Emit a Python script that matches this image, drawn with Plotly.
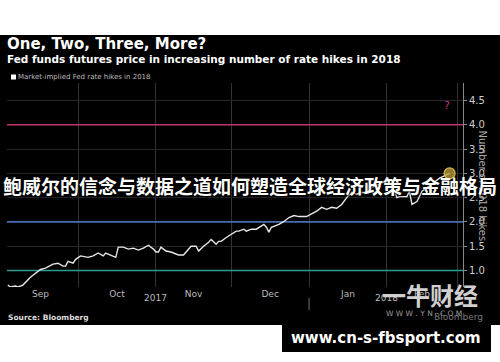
import plotly.graph_objects as go

# ---- data ----
dates = ["2017-09-03","2017-09-04","2017-09-06","2017-09-07","2017-09-09","2017-09-12","2017-09-16","2017-09-18","2017-09-21","2017-09-23","2017-09-25","2017-09-26","2017-09-27","2017-09-29","2017-09-30",
         "2017-10-02","2017-10-05","2017-10-07","2017-10-09","2017-10-11","2017-10-12","2017-10-14","2017-10-16","2017-10-17","2017-10-19","2017-10-21","2017-10-23","2017-10-25","2017-10-27","2017-10-29","2017-10-31",
         "2017-11-01","2017-11-02","2017-11-03","2017-11-05","2017-11-07","2017-11-10","2017-11-12","2017-11-14","2017-11-15","2017-11-17","2017-11-18","2017-11-20","2017-11-22","2017-11-23","2017-11-25","2017-11-26","2017-11-27","2017-11-29",
         "2017-12-01","2017-12-03","2017-12-04","2017-12-06","2017-12-07","2017-12-09","2017-12-11","2017-12-13","2017-12-14","2017-12-15","2017-12-16","2017-12-17","2017-12-20","2017-12-22","2017-12-24","2017-12-26","2017-12-28","2017-12-31",
         "2018-01-02","2018-01-04","2018-01-06","2018-01-08","2018-01-10","2018-01-12","2018-01-14","2018-01-16","2018-01-18","2018-01-20","2018-01-22","2018-01-24","2018-01-25","2018-01-26","2018-01-29",
         "2018-02-01","2018-02-03","2018-02-05","2018-02-06","2018-02-09","2018-02-10","2018-02-11","2018-02-13","2018-02-14","2018-02-15","2018-02-18","2018-02-22","2018-02-26"]
hikes = [0.70,0.66,0.68,0.66,0.70,0.86,1.02,1.05,1.13,1.15,1.09,1.09,1.19,1.15,1.23,
         1.30,1.27,1.30,1.36,1.30,1.36,1.32,1.27,1.48,1.48,1.44,1.46,1.42,1.46,1.52,1.44,
         1.38,1.38,1.48,1.40,1.38,1.32,1.32,1.44,1.50,1.50,1.40,1.50,1.58,1.64,1.54,1.60,1.60,1.68,
         1.75,1.81,1.81,1.85,1.81,1.85,1.85,1.91,1.95,1.89,1.79,1.89,1.95,2.01,2.09,2.13,2.11,2.11,
         2.16,2.22,2.30,2.26,2.30,2.28,2.36,2.50,2.61,2.57,2.61,2.59,2.67,2.71,2.78,
         2.85,2.75,2.50,2.52,2.52,2.63,2.36,2.42,2.52,2.63,2.75,2.90,3.00]
ref_levels = [4.0, 2.0, 1.0]
ref_colors = ["#c23470", "#4a6cb0", "#2a9d94"]
y_ticks = [1.0, 1.5, 2.0, 2.5, 3.0, 3.5, 4.0, 4.5]
x_range = ["2017-09-02 16:00", "2018-03-03 08:00"]
y_range = [0.66, 4.86]
year_labels = [("2017-11-01", "2017"), ("2018-02-01", "2018")]
question_pos = ("2018-02-25", 4.4)

W, H = 500, 362
def px(x): return x / W
def py(y): return 1 - y / H

fig = go.Figure()

# reference lines
for lvl, col in zip(ref_levels, ref_colors):
    fig.add_trace(go.Scatter(x=x_range, y=[lvl, lvl], mode="lines",
                             line=dict(color=col, width=1.6), hoverinfo="skip", showlegend=False))

fig.add_trace(go.Scatter(x=dates, y=hikes, mode="lines",
                         line=dict(color="#e6e6e6", width=1.4), showlegend=False))
fig.add_trace(go.Scatter(x=[dates[-1]], y=[hikes[-1]], mode="markers",
                         marker=dict(size=11, color="rgba(190,160,60,0.75)",
                                     line=dict(color="#d9b648", width=1.2)),
                         showlegend=False))

shapes = [
    dict(type="rect", xref="paper", yref="paper", x0=0, x1=1, y0=py(325), y1=py(35),
         fillcolor="black", line=dict(width=0), layer="below"),
    dict(type="rect", xref="paper", yref="paper", x0=px(282), x1=px(491), y0=py(352), y1=py(325),
         fillcolor="black", line=dict(width=0), layer="above"),
    dict(type="rect", xref="paper", yref="paper", x0=px(11), x1=px(16), y0=py(79.5), y1=py(74.5),
         fillcolor="white", line=dict(width=0)),
    dict(type="line", xref="x", yref="paper", x0="2018-01-01", x1="2018-01-01", y0=py(310), y1=py(298),
         line=dict(color="#777", width=1)),
]

ann = []
def text(x, y, s, size, color="white", bold=False, family="DejaVu Sans", xanchor="left", **kw):
    ann.append(dict(x=px(x), y=py(y), xref="paper", yref="paper", text=(f"<b>{s}</b>" if bold else s),
                    showarrow=False, xanchor=xanchor, yanchor="middle",
                    font=dict(size=size, color=color, family=family), **kw))

text(5, 44, "One, Two, Three, More?", 15, bold=True)
text(5, 59, "Fed funds futures price in increasing number of rate hikes in 2018", 10.5, bold=True)
text(16, 77, "Market-implied Fed rate hikes in 2018", 7, color="#bbbbbb")
text(6, 317, "Source: Bloomberg", 7.5, bold=True, color="#dddddd")
text(432, 317, "Bloomberg", 9, color="#777777")
for d, s in year_labels:
    ann.append(dict(x=d, y=py(305), xref="x", yref="paper", text=s, showarrow=False,
                    font=dict(size=9, color="#bbbbbb", family="DejaVu Sans")))
ann.append(dict(x=question_pos[0], y=question_pos[1], xref="x", yref="y", text="?", showarrow=False,
                font=dict(size=11, color="#c23470", family="DejaVu Sans")))
ann.append(dict(x=px(490), y=py(186), xref="paper", yref="paper", text="Number of 2018 hikes",
                textangle=90, showarrow=False, font=dict(size=10, color="#aaaaaa", family="DejaVu Sans")))
# watermark
text(430, 294, "<b>一牛财经</b>", 24, color="#d0d0d0", family="Noto Sans CJK SC", xanchor="center")
text(424, 313, "W W W . Y N . C O M", 7.5, color="#999999", xanchor="center")
# overlay headline
ann.append(dict(x=0.5, y=py(185), xref="paper", yref="paper",
                text="<b>鲍威尔的信念与数据之道如何塑造全球经济政策与金融格局</b>",
                showarrow=False, xanchor="center", yanchor="middle",
                font=dict(size=19, color="white", family="Noto Sans CJK SC",
                          shadow="1px 1px 2px black")))
text(386, 338, "www.cn-s-fbsport.com", 15, bold=True, xanchor="center")

fig.update_layout(
    width=W, height=H, margin=dict(l=0, r=0, t=0, b=0),
    paper_bgcolor="white", plot_bgcolor="black",
    shapes=shapes, annotations=ann, showlegend=False,
    xaxis=dict(domain=[px(7), px(463)], range=x_range, type="date",
               tick0="2017-09-01", dtick="M1", ticklabelmode="period", tickformat="%b",
               showgrid=True, gridcolor="#333333", gridwidth=1, zeroline=False,
               ticks="", showline=False,
               tickfont=dict(size=9, color="#bbbbbb", family="DejaVu Sans")),
    yaxis=dict(domain=[py(287), py(83)], range=y_range, side="right",
               tickvals=y_ticks, tickformat=".1f", showgrid=True, gridcolor="#262626",
               zeroline=False, showline=True, linecolor="#888888", linewidth=1,
               ticks="outside", ticklen=3, tickcolor="#888888",
               tickfont=dict(size=10, color="#cccccc", family="DejaVu Sans")),
)

fig.write_html("out.html")
